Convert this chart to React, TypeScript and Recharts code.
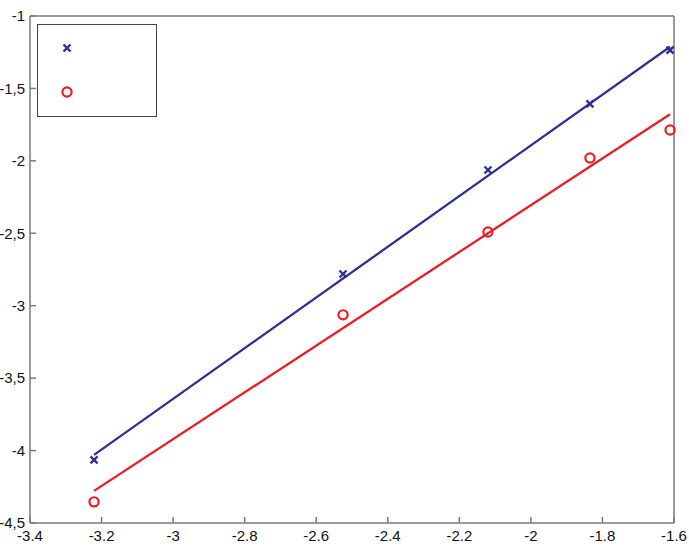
import { ScatterChart, Scatter, XAxis, YAxis, Legend } from 'recharts'

// tick values
const xTicks = [-3.4, -3.2, -3, -2.8, -2.6, -2.4, -2.2, -2, -1.8, -1.6]
const yTicks = [-4.5, -4, -3.5, -3, -2.5, -2, -1.5, -1]

// measured points
const measuredX = [-3.221, -2.525, -2.12, -1.835, -1.611]
const seriesA = [-4.064, -2.781, -2.063, -1.607, -1.235]
const seriesB = [-4.354, -3.063, -2.491, -1.98, -1.787]

// fitted lines (end points)
const fitX = [-3.221, -1.611]
const fitA = [-4.03, -1.212]
const fitB = [-4.278, -1.678]

const BLUE = '#2e3192'
const RED = '#ed1c24'
const AXIS = '#7a7a7a'

const pointsA = measuredX.map((x, i) => ({ x, y: seriesA[i] }))
const pointsB = measuredX.map((x, i) => ({ x, y: seriesB[i] }))
const lineA = fitX.map((x, i) => ({ x, y: fitA[i] }))
const lineB = fitX.map((x, i) => ({ x, y: fitB[i] }))

const tickStyle = { fontSize: 15, fontFamily: 'Liberation Sans, Arial, sans-serif', fill: '#111' }

const Cross = (props: any) => {
  const { cx, cy } = props
  const s = 3.5
  return (
    <g stroke={BLUE} strokeWidth={2.4}>
      <line x1={cx - s} y1={cy - s} x2={cx + s} y2={cy + s} />
      <line x1={cx - s} y1={cy + s} x2={cx + s} y2={cy - s} />
    </g>
  )
}

const Ring = (props: any) => {
  const { cx, cy } = props
  return <circle cx={cx} cy={cy} r={4.6} fill="none" stroke={RED} strokeWidth={2.2} />
}

const Empty = () => <g />

const LegendBox = () => (
  <div style={{ width: 120, height: 93, border: '1px solid #444', background: '#fff', boxSizing: 'border-box' }}>
    <svg width={118} height={91}>
      <Cross cx={29} cy={23} />
      <Ring cx={29} cy={67} />
    </svg>
  </div>
)

export default function App() {
  return (
    <div style={{ position: 'absolute', left: 0, top: 0, background: '#fff' }}>
      <ScatterChart width={689} height={546} margin={{ top: 15, right: 14, left: 0, bottom: 0 }}>
        <XAxis
          xAxisId="b"
          type="number"
          dataKey="x"
          domain={[-3.4, -1.6]}
          ticks={xTicks}
          interval={0}
          height={23}
          tickSize={-6}
          tickMargin={13}
          stroke={AXIS}
          strokeWidth={1.5}
          tick={tickStyle}
        />
        <XAxis
          xAxisId="t"
          orientation="top"
          type="number"
          domain={[-3.4, -1.6]}
          ticks={xTicks}
          interval={0}
          height={1}
          tickSize={-6}
          stroke={AXIS}
          strokeWidth={1.5}
          tickFormatter={() => ''}
        />
        <YAxis
          yAxisId="l"
          type="number"
          dataKey="y"
          domain={[-4.5, -1]}
          ticks={yTicks}
          interval={0}
          width={30}
          tickSize={-6}
          tickMargin={11}
          stroke={AXIS}
          strokeWidth={1.5}
          tick={tickStyle}
          tickFormatter={(v) => String(v).replace('.', ',')}
        />
        <YAxis
          yAxisId="r"
          orientation="right"
          type="number"
          domain={[-4.5, -1]}
          ticks={yTicks}
          interval={0}
          width={1}
          tickSize={-6}
          stroke={AXIS}
          strokeWidth={1.5}
          tickFormatter={() => ''}
        />
        <Scatter xAxisId="b" yAxisId="l" data={lineA} line={{ stroke: BLUE, strokeWidth: 2.3 }} shape={Empty} isAnimationActive={false} />
        <Scatter xAxisId="b" yAxisId="l" data={lineB} line={{ stroke: RED, strokeWidth: 2.3 }} shape={Empty} isAnimationActive={false} />
        <Scatter xAxisId="b" yAxisId="l" data={pointsA} shape={Cross} isAnimationActive={false} />
        <Scatter xAxisId="b" yAxisId="l" data={pointsB} shape={Ring} isAnimationActive={false} />
        <Legend
          layout="vertical"
          align="center"
          verticalAlign="middle"
          wrapperStyle={{ top: 24, left: 37, width: 120, height: 93 }}
          content={() => <LegendBox />}
        />
      </ScatterChart>
    </div>
  )
}
